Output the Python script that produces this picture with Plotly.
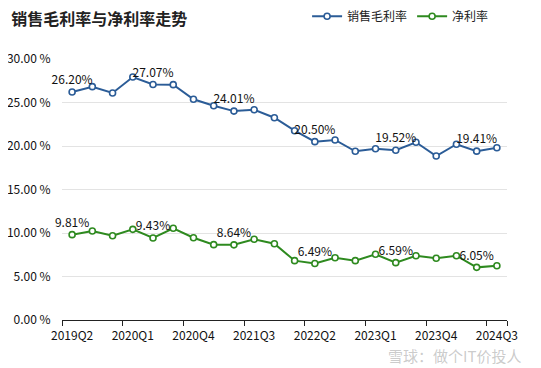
import plotly.graph_objects as go

quarters = ["2019Q2", "2019Q3", "2019Q4", "2020Q1", "2020Q2", "2020Q3", "2020Q4",
            "2021Q1", "2021Q2", "2021Q3", "2021Q4", "2022Q1", "2022Q2", "2022Q3",
            "2022Q4", "2023Q1", "2023Q2", "2023Q3", "2023Q4", "2024Q1", "2024Q2", "2024Q3"]
gross_margin = [26.20, 26.82, 26.10, 27.93, 27.07, 27.05, 25.37, 24.63, 24.01, 24.17, 23.25,
                21.76, 20.50, 20.69, 19.39, 19.69, 19.52, 20.43, 18.85, 20.20, 19.41, 19.80]
net_margin = [9.81, 10.23, 9.69, 10.42, 9.43, 10.54, 9.46, 8.66, 8.64, 9.28, 8.77,
              6.82, 6.49, 7.16, 6.82, 7.55, 6.59, 7.39, 7.09, 7.39, 6.05, 6.24]
label_idx = [0, 4, 8, 12, 16, 20]
tick_idx = [0, 3, 6, 9, 12, 15, 18, 21]

FONT = "Noto Sans CJK SC, Open Sans, sans-serif"
BLUE = "#2b5c97"
GREEN = "#2e8a1f"

x = list(range(len(quarters)))

def labels(vals):
    return [f"{v:.2f}%" if i in label_idx else "" for i, v in enumerate(vals)]

fig = go.Figure()
for name, vals, col in [("销售毛利率", gross_margin, BLUE), ("净利率", net_margin, GREEN)]:
    fig.add_trace(go.Scatter(
        x=x, y=vals, name=name, mode="lines+markers+text",
        text=labels(vals), textposition="top center",
        textfont=dict(size=12, color="#111", family=FONT),
        line=dict(color=col, width=2),
        marker=dict(symbol="circle", size=6, color="white", line=dict(color=col, width=1.6)),
        cliponaxis=False,
    ))

# page body has an 8px margin; figure sized so it fits the 541x368 window
fig.update_layout(
    width=533, height=360,
    margin=dict(l=54, r=34, t=51, b=48, autoexpand=False),
    paper_bgcolor="white", plot_bgcolor="white",
    font=dict(family=FONT, size=12, color="#222"),
    title=dict(text="<b>销售毛利率与净利率走势</b>", x=0.006, xanchor="left",
               xref="container", yref="container", y=0.967, yanchor="middle",
               font=dict(size=16, color="#222", family=FONT)),
    legend=dict(orientation="h", xref="container", yref="container",
                x=0.912, xanchor="right", y=0.977, yanchor="middle",
                font=dict(size=12, color="#222", family=FONT), itemwidth=30,
                bgcolor="rgba(0,0,0,0)"),
    showlegend=True,
)
fig.update_xaxes(
    range=[-0.5, len(quarters) - 0.5],
    tickmode="array", tickvals=[x[i] for i in tick_idx], ticktext=[quarters[i] for i in tick_idx],
    ticks="", showgrid=False, zeroline=False, ticklabelstandoff=4,
    showline=True, linecolor="#222", linewidth=1.2,
    tickfont=dict(size=12, color="#111"), automargin=False,
    minor=dict(tickmode="array", tickvals=[i - 0.5 for i in tick_idx] + [len(quarters) - 0.5],
               ticks="outside", ticklen=5, tickcolor="#222", tickwidth=1, showgrid=False),
)
fig.update_yaxes(
    range=[0, 30], tickmode="linear", tick0=0, dtick=5,
    tickformat=".2f", ticksuffix=" %",
    showgrid=True, gridcolor="#e3e3e3", gridwidth=1, zeroline=False, showline=False,
    ticks="outside", ticklen=8, tickcolor="rgba(0,0,0,0)", automargin=False,
    tickfont=dict(size=12, color="#111"),
)
fig.add_annotation(text="雪球：做个IT价投人", xref="paper", yref="paper",
                   x=1.036, y=-0.135, xanchor="right", yanchor="middle", showarrow=False,
                   font=dict(size=15, color="rgba(160,160,160,0.55)", family=FONT))

fig.write_html("out.html")
